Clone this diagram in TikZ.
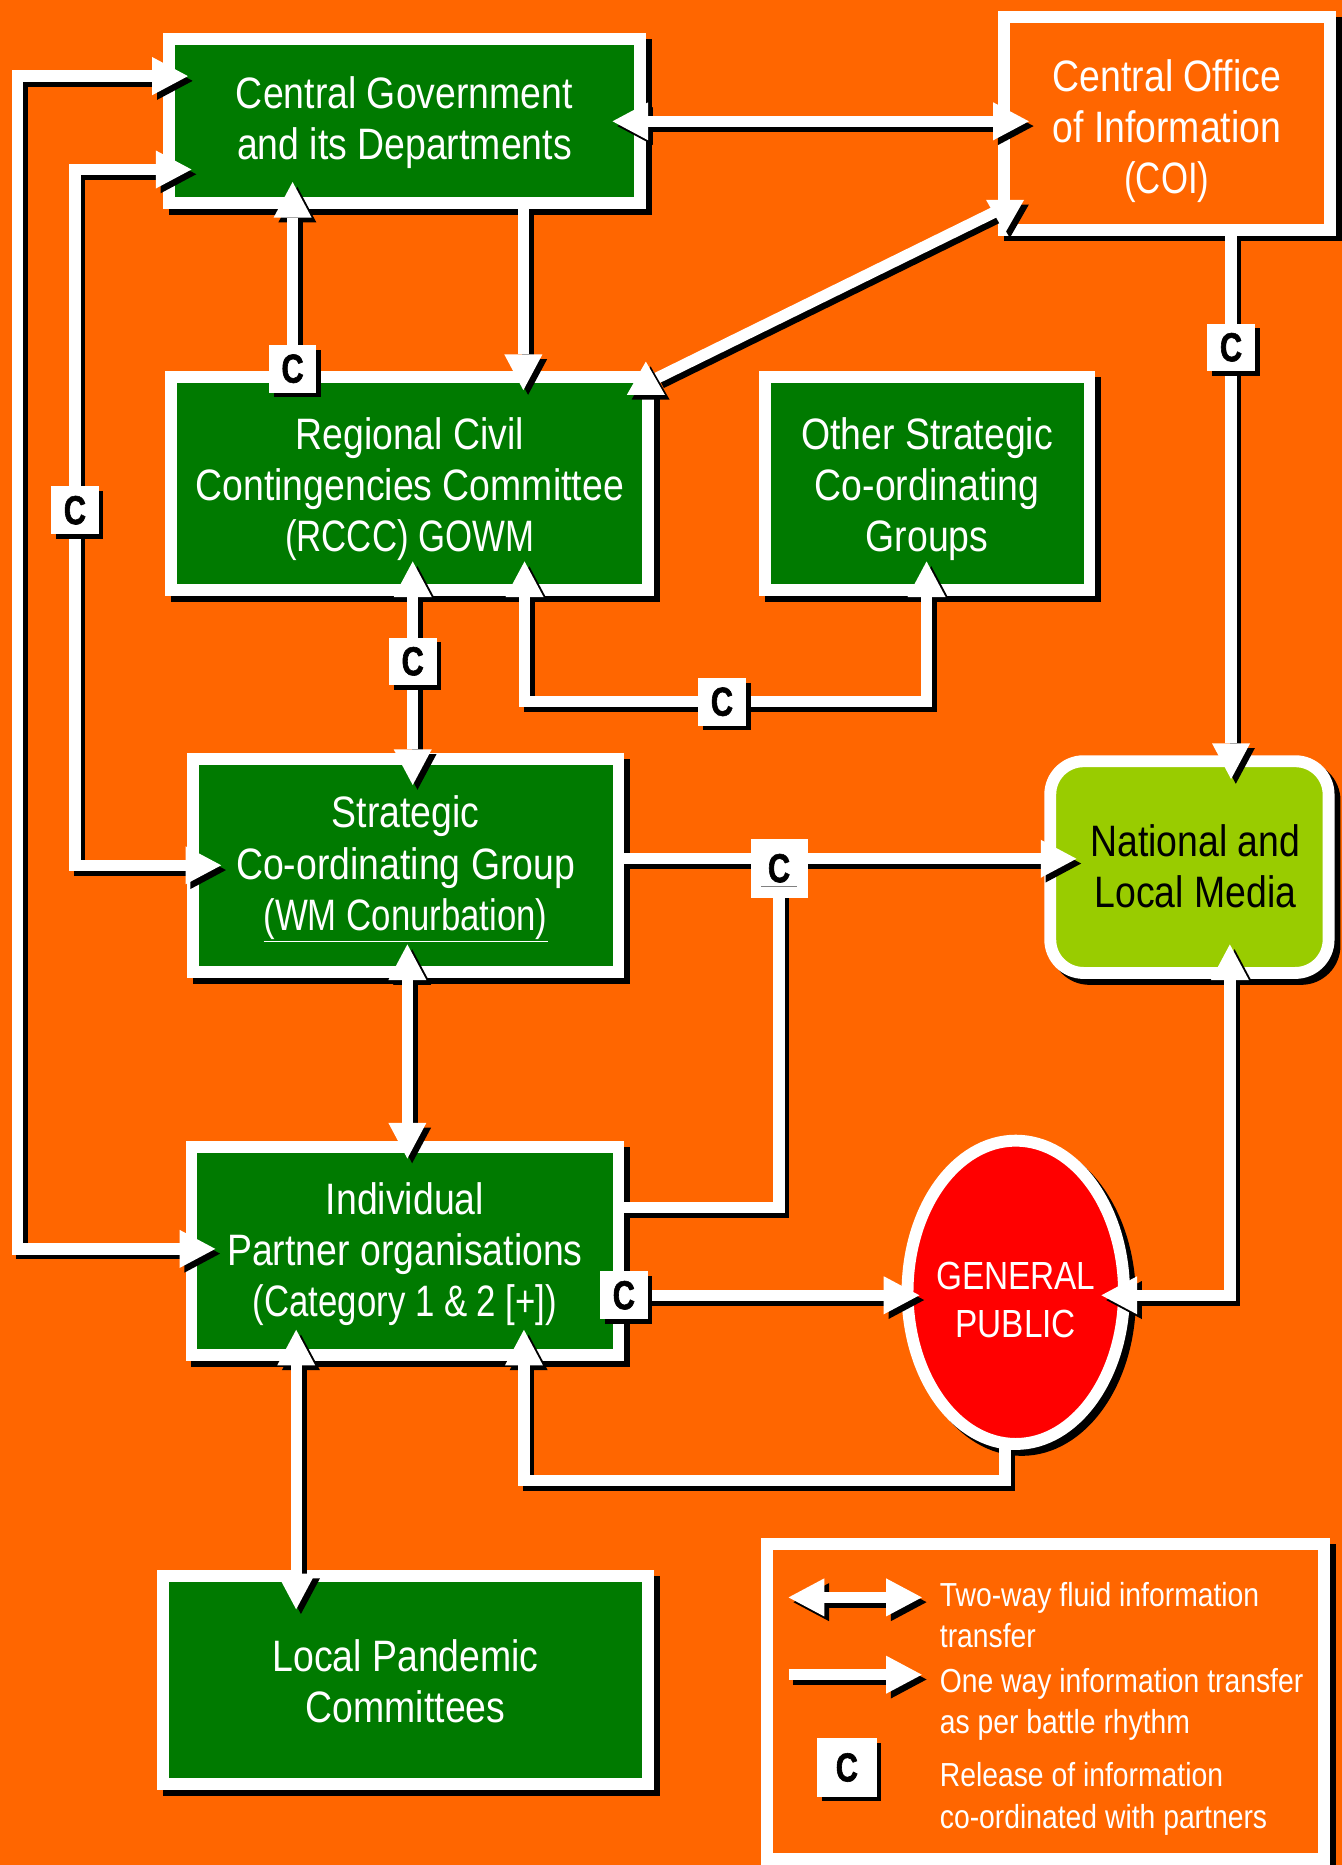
\documentclass[tikz,border=0pt]{standalone}
\usepackage{fontspec}
\setmainfont{Liberation Sans}[FakeStretch=0.85]
\newfontfamily\parenfont{Liberation Sans}[FakeStretch=0.79]
\newfontfamily\cfont{Liberation Sans}[FakeStretch=0.76,FakeBold=1.5]
\usetikzlibrary{arrows.meta,shapes.geometric,calc}
\pgfdeclarelayer{front}
\pgfsetlayers{main,front}
\definecolor{bgorange}{HTML}{FF6600}
\definecolor{boxgreen}{HTML}{007A00}
\definecolor{mediagreen}{HTML}{99CC00}
\definecolor{publicred}{HTML}{FF0000}
\tikzset{
  Head/.tip={Triangle[length=30pt,width=32pt,line width=0pt]},
  wireshadow/.style={draw=black,line width=9.5pt,transform canvas={shift={(4pt,-4pt)}}},
  wirewhite/.style={draw=white,line width=9.5pt},
  gbox/.style={draw=white,line width=10pt,fill=boxgreen,inner sep=0pt,outer sep=0pt,
    preaction={draw=black,fill=black,transform canvas={shift={(5pt,-5pt)}}}},
  boxtext/.style={align=center,text=white,inner sep=0pt,font=\fontsize{37}{43}\selectfont},
  cbox/.style={fill=white,inner sep=0pt,outer sep=0pt,minimum width=40pt,minimum height=40pt,
    font=\cfont\fontsize{34}{34}\selectfont\bfseries,text=black,
    preaction={fill=black,transform canvas={shift={(4pt,-4pt)}}}},
  legtext/.style={text=white,align=left,inner sep=0pt,anchor=west,font=\fontsize{28}{35}\selectfont},
}
% white connector with a black drop shadow
\newcommand\wire[2][]{\draw[wireshadow,#1]#2;\draw[wirewhite,#1]#2;}
% free-standing arrow head: tip position, direction
\newcommand\pointhead[2]{%
  \fill[black,transform canvas={shift={(4pt,-4pt)}},shift={#1},rotate=#2] (0,0) -- (-28,-16) -- (-28,16) -- cycle;
  \fill[white,shift={#1},rotate=#2] (0,0) -- (-28,-16) -- (-28,16) -- cycle;}
\begin{document}
\begin{tikzpicture}[x=1pt,y=-1pt]
\fill[bgorange] (0,0) rectangle (1128,1568);
\useasboundingbox (0,0) rectangle (1128,1568);

% ---- boxes ----
\node[gbox,minimum width=396pt,minimum height=138pt] (cg) at (340,102) {};
\node[gbox,fill=bgorange,minimum width=274pt,minimum height=179pt] (coi) at (981,103.5) {};
\node[gbox,minimum width=401pt,minimum height=179pt] (rccc) at (344.5,406.5) {};
\node[gbox,minimum width=273pt,minimum height=179pt] (other) at (779.5,406.5) {};
\node[gbox,minimum width=358pt,minimum height=179pt] (scg) at (341,727.5) {};
\node[gbox,fill=mediagreen,rounded corners=28pt,minimum width=234pt,minimum height=178pt] (media) at (1000,729) {};
\node[gbox,minimum width=359pt,minimum height=175pt] (ipo) at (340.5,1051.5) {};
\node[gbox,ellipse,fill=publicred,minimum width=182pt,minimum height=255pt] (gp) at (854,1086.5) {};
\node[gbox,minimum width=408pt,minimum height=175pt] (lpc) at (341,1412.5) {};

% ---- box texts ----
\node[boxtext] (cgtext) at ($(cg)+(0,1)$) {Central Government\\and its Departments};
\node[boxtext] (coitext) at ($(coi)+(0,6.5)$) {Central Office\\of Information\\{\parenfont(COI)}};
\node[boxtext] (rccctext) at ($(rccc)+(0,5)$) {Regional Civil\\Contingencies Committee\\{\parenfont(RCCC) GOWM}};
\node[boxtext] (othertext) at ($(other)+(0,5)$) {Other Strategic\\Co-ordinating\\Groups};
\node[boxtext] (scgtext) at ($(scg)+(0,3)$) {Strategic\\Co-ordinating Group\\{\parenfont\underline{(WM Conurbation)}}};
\node[boxtext,text=black] (mediatext) at ($(media)+(5,-1)$) {National and\\Local Media};
\node[boxtext] (ipotext) at ($(ipo)+(0,3)$) {Individual\\Partner organisations\\{\parenfont(Category 1 \& 2 [+])}};
\node[boxtext,font=\fontsize{33}{40}\selectfont] (gptext) at ($(gp)+(0,6.5)$) {GENERAL\\PUBLIC};
\node[boxtext] (lpctext) at ($(lpc)+(0,1)$) {Local Pandemic\\Committees};

% ---- coordination markers ----
\begin{pgfonlayer}{front}
\node[cbox] (c1) at (246,310) {C};
\node[cbox] (c2) at (63,429) {C};
\node[cbox] (c3) at (1035,292) {C};
\node[cbox] (c4) at (347,556) {C};
\node[cbox] (c5) at (607,590) {C};
\node[fill=white,inner sep=0pt,minimum width=48pt,minimum height=50pt,
  font=\cfont\fontsize{34}{34}\selectfont\bfseries] (c6) at (655,730) {C};
\draw[gray,line width=1pt] ($(c6.center)+(-15,15)$) -- ++(30,0);
\node[cbox] (c7) at (524.5,1089) {C};
\end{pgfonlayer}

% ---- connectors ----
\wire[{Head}-{Head}]{($(cg.west)+(16,-38)$) -| (14.5,1050) -- ($(ipo.west)+(20,-1.5)$)}
\wire[{Head}-{Head}]{($(cg.west)+(19,40.5)$) -| (63,727.5) -- ($(scg.west)+(24,0)$)}
\wire[-{Head}]{(c1.center) -- ($(c1.center |- cg.south)+(0,-18)$)}
\wire[-{Head}]{($(cg.south)+(100,5)$) -- ($(rccc.north)+(95.5,11)$)}
\wire[{Head}-{Head}]{($(cg.east)+(-23,0)$) -- ($(coi.west)+(21,-1.5)$)}
\wire{($(coi.south west)+(-1,-18)$) -- ($(rccc.north east)+(7,1)$)}
\pointhead{($(coi.south west)+(1,3)$)}{-90}
\pointhead{($(rccc.north east)+(-2,-13)$)}{90}
\wire[-{Head}]{($(c3.center |- coi.south)+(0,5)$) -- ($(c3.center |- media.north)+(0,15)$)}
\wire[{Head}-{Head}]{($(c4.center |- rccc.south)+(0,-24)$) -- ($(c4.center |- scg.north)+(0,22)$)}
\wire[{Head}-{Head}]{($(rccc.south)+(96.5,-24)$) |- (c5.center) -| ($(other.south)+(-0.5,-24)$)}
\wire[-{Head}]{($(scg.east)+(5,-5.5)$) -- ($(media.west)+(22,-7)$)}
\wire{($(ipo.east)+(5,-36.5)$) -| (c6.center)}
\wire[{Head}-{Head}]{($(scg.south)+(1.5,-23)$) -- ($(ipo.north)+(2,10)$)}
\wire[-{Head}]{(c7.center) -- ($(c7.center -| gp.west)+(10,0)$)}
\wire[{Head}-{Head}]{($(media.south)+(34,-24)$) |- ($(gp.east)+(-19,2.5)$)}
\wire[-{Head}]{($(gp.south)+(-9,3)$) -- ++(0,27.5) -| ($(ipo.south)+(100,-21)$)}
\wire[{Head}-{Head}]{($(ipo.south)+(-91.5,-21)$) -- ($(lpc.north)+(-92,28)$)}

% ---- key ----
\node[gbox,fill=bgorange,minimum width=468pt,minimum height=265pt] (legend) at (879,1430.5) {};
\coordinate (twoA) at ($(legend.north west)+(18,45)$);
\coordinate (twoB) at ($(twoA)+(112,0)$);
\wire[{Head}-{Head}]{(twoA) -- (twoB)}
\coordinate (oneA) at ($(legend.north west)+(18,110)$);
\coordinate (oneB) at ($(oneA)+(112,0)$);
\wire[-{Head}]{(oneA) -- (oneB)}
\node[cbox,minimum width=50pt,minimum height=49pt] (keyc) at (712,1486) {C};
\node[legtext] (key1) at (790,1358) {Two-way fluid information\\transfer};
\node[legtext] (key2) at (790,1433) {One way information transfer\\as per battle rhythm};
\node[legtext] (key3) at (790,1512.5) {Release of information\\co-ordinated with partners};
\end{tikzpicture}
\end{document}
